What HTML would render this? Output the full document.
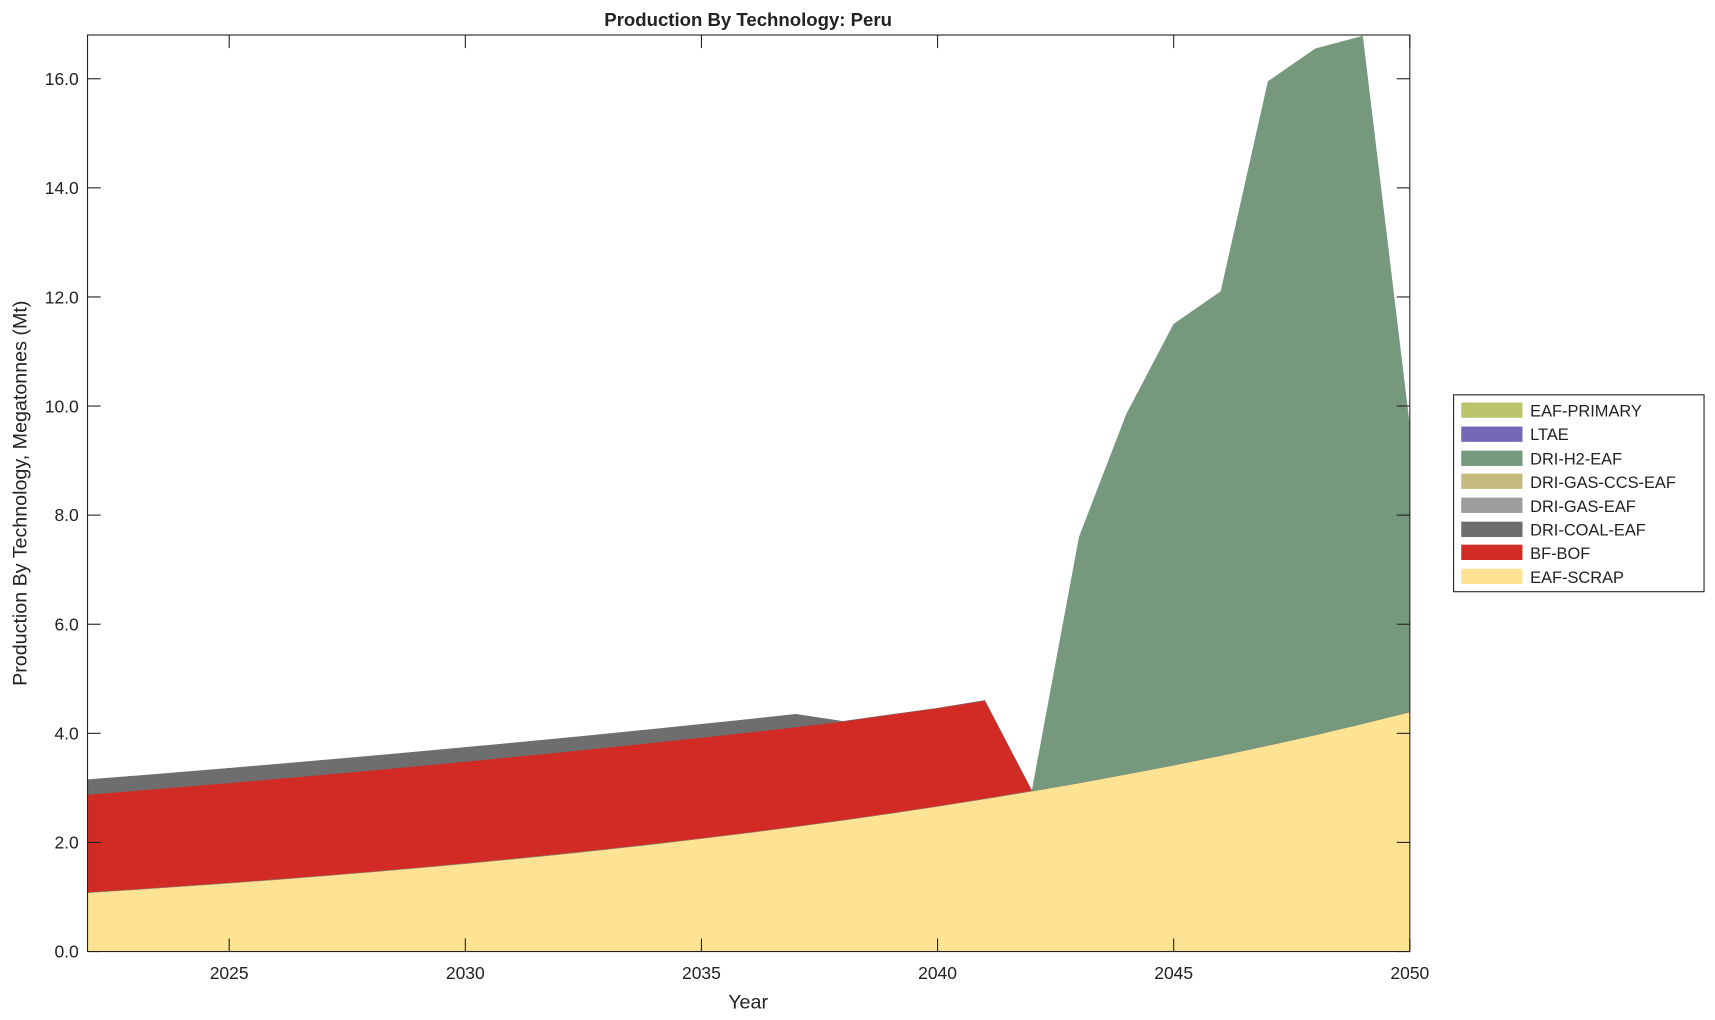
<!DOCTYPE html>
<html><head><meta charset="utf-8"><style>
html,body{margin:0;padding:0;background:#fff;width:1715px;height:1020px;overflow:hidden}
text{font-family:"Liberation Sans",Arial,sans-serif;fill:#222}
</style></head><body>
<svg id="s" width="1715" height="1020" viewBox="0 0 1568 932.6" xmlns="http://www.w3.org/2000/svg">
<g id="areas"></g>
<rect x="80" y="32" width="1209" height="838" fill="none" stroke="#222" stroke-width="1"/>
<g id="ticks" stroke="#222" stroke-width="1"></g>
<g font-size="16" text-anchor="end">
<text x="72" y="875.5">0.0</text><text x="72" y="776">2.0</text><text x="72" y="676">4.0</text>
<text x="72" y="576.5">6.0</text><text x="72" y="476.5">8.0</text><text x="72" y="377">10.0</text>
<text x="72" y="277.5">12.0</text><text x="72" y="177.5">14.0</text><text x="72" y="77.5">16.0</text>
</g>
<g font-size="16" text-anchor="middle">
<text x="209.5" y="895">2025</text><text x="425.4" y="895">2030</text><text x="641.3" y="895">2035</text>
<text x="857.2" y="895">2040</text><text x="1073.1" y="895">2045</text><text x="1289" y="895">2050</text>
</g>
<text x="684" y="922" font-size="18" text-anchor="middle">Year</text>
<text transform="translate(24,451) rotate(-90)" font-size="18" text-anchor="middle">Production By Technology, Megatonnes (Mt)</text>
<text x="684" y="24" font-size="17" font-weight="bold" text-anchor="middle">Production By Technology: Peru</text>
<rect x="1329" y="361" width="229" height="180" fill="#fff" stroke="#222" stroke-width="1"/>
<g font-size="15">
<rect x="1336" y="368" width="56" height="14" fill="#bcc46b"/><text x="1399" y="381">EAF-PRIMARY</text>
<rect x="1336" y="390" width="56" height="14" fill="#7668b8"/><text x="1399" y="402.5">LTAE</text>
<rect x="1336" y="412" width="56" height="14" fill="#76987d"/><text x="1399" y="424.5">DRI-H2-EAF</text>
<rect x="1336" y="433" width="56" height="14" fill="#c5bb7e"/><text x="1399" y="446">DRI-GAS-CCS-EAF</text>
<rect x="1336" y="455" width="56" height="14" fill="#9d9d9b"/><text x="1399" y="468">DRI-GAS-EAF</text>
<rect x="1336" y="477" width="56" height="14" fill="#6e6e6e"/><text x="1399" y="489.5">DRI-COAL-EAF</text>
<rect x="1336" y="498" width="56" height="14" fill="#d22b25"/><text x="1399" y="511">BF-BOF</text>
<rect x="1336" y="520" width="56" height="14" fill="#fee394"/><text x="1399" y="533">EAF-SCRAP</text>
</g>
</svg>
<script>
const X=y=>80+(y-2022)*43.178, Y=v=>870-v*49.875;
const yrs=[];for(let y=2022;y<=2050;y++)yrs.push(y);
const scrap=y=>1.08*Math.exp(0.0501*(y-2022));
const total=y=>3.15*Math.exp(0.0215*(y-2022));
const redTop=y=>{if(y<=2037)return 2.88*Math.exp(0.0238*(y-2022));
 const m={2038:4.22,2039:4.34,2040:4.46,2041:4.6};return m[y]!==undefined?m[y]:scrap(y);};
const grayTop=y=>y<=2037?total(y):redTop(y);
const h2={2043:7.6,2044:9.85,2045:11.5,2046:12.1,2047:15.95,2048:16.55,2049:16.78,2050:9.6};
const h2Top=y=>h2[y]!==undefined?h2[y]:scrap(y);
function area(top,bot,col){
 let p=yrs.map(y=>X(y)+','+Y(top(y)));
 let q=yrs.slice().reverse().map(y=>X(y)+','+Y(bot(y)));
 return `<polygon points="${p.concat(q).join(' ')}" fill="${col}" stroke="${col}" stroke-width="0.5"/>`;}
let g='';
g+=area(scrap,()=>0,'#fee394');
g+=area(redTop,scrap,'#d22b25');
g+=area(grayTop,redTop,'#6e6e6e');
g+=area(h2Top,scrap,'#76987d');
document.getElementById('areas').innerHTML=g;
let t='';
for(let v=0;v<=16;v+=2){const yy=Y(v);t+=`<line x1="80" x2="92" y1="${yy}" y2="${yy}"/><line x1="1277" x2="1289" y1="${yy}" y2="${yy}"/>`;}
for(let y=2025;y<=2050;y+=5){const xx=X(y);t+=`<line x1="${xx}" x2="${xx}" y1="870" y2="858"/><line x1="${xx}" x2="${xx}" y1="32" y2="44"/>`;}
document.getElementById('ticks').innerHTML=t;
</script>
</body></html>
